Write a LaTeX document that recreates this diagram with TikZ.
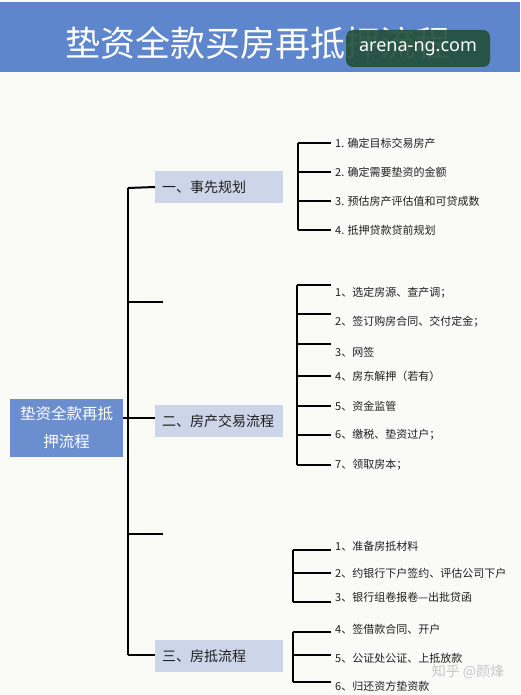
\documentclass[tikz,border=0pt]{standalone}
\usepackage{fontspec}
\usetikzlibrary{calc}
\setmainfont{Noto Sans CJK SC}
\newfontfamily\latinfont{Noto Sans}
\definecolor{bg}{HTML}{FAFBF7}
\definecolor{titlebar}{HTML}{5E86CC}
\definecolor{rootfill}{HTML}{6A8ECE}
\definecolor{catfill}{HTML}{CDD5E8}
\definecolor{wmgreen}{HTML}{23503C}
\definecolor{itemtext}{HTML}{1E1E1E}
\tikzset{
  line/.style={line width=2pt, black},
  catbox/.style={fill=catfill, draw=none, minimum width=128pt, minimum height=32pt,
     anchor=west, inner xsep=7pt, text width=114pt, align=left, font=\fontsize{14}{16}\selectfont, text=itemtext},
  item/.style={anchor=west, inner xsep=4pt, inner ysep=1pt, font=\fontsize{11}{13}\selectfont, text=itemtext},
}
\begin{document}
\begin{tikzpicture}[x=1pt,y=-1pt]
\useasboundingbox (0,0) rectangle (520,695);
\fill[bg] (0,0) rectangle (520,695);
% title bar
\fill[titlebar] (0,2) rectangle (520,72);
\node[text=white, font=\fontsize{35}{38}\selectfont] (title) at (258,43) {垫资全款买房再抵押流程};
% watermark box
\node[fill=wmgreen, fill opacity=0.92, text opacity=1, rounded corners=7pt, minimum width=144pt, minimum height=37pt,
      text=white, font=\latinfont\fontsize{18}{20}\selectfont] (wm) at (418,48.5) {arena-ng.com};
% root
\node[fill=rootfill, minimum width=113pt, minimum height=58pt, text=white, align=center,
      font=\fontsize{15.5}{28}\selectfont] (root) at (66.5,428) {垫资全款再抵\\押流程};
% trunk
\coordinate (t1) at (128,188);
\coordinate (t2) at (128,302);
\coordinate (t3) at (128,418);
\coordinate (t4) at (128,534);
\coordinate (t5) at (128,655);
\coordinate (e2) at (163,302);
\coordinate (e4) at (163,534);
\node[catbox] (c1) at (155,187) {一、事先规划};
\node[catbox] (c2) at (155,421) {二、房产交易流程};
\node[catbox] (c3) at (155,656) {三、房抵流程};
\draw[line] (t1) -- (t5);
\draw[line] (root.east|-t3) -- (t3);
\draw[line] (t1) -- (c1.west);
\draw[line] (t2) -- (e2);
\draw[line] (t3) -- (c2.west|-t3);
\draw[line] (t4) -- (e4);
\draw[line] (t5) -- (c3.west|-t5);
% group 1
\node[item] (a1) at (331,143) {1. 确定目标交易房产};
\node[item] (a2) at (331,172) {2. 确定需要垫资的金额};
\node[item] (a3) at (331,201) {3. 预估房产评估值和可贷成数};
\node[item] (a4) at (331,230) {4. 抵押贷款贷前规划};
\coordinate (ba) at (298,0);
\draw[line] (ba|-a1.west) -- (ba|-a4.west);
\foreach \n in {a1,a2,a3,a4} \draw[line] (ba|-\n.west) -- (\n.west);
% group 2
\node[item] (b1) at (331,293) {1、选定房源、查产调；};
\node[item] (b2) at (331,322) {2、签订购房合同、交付定金；};
\node[item] (b3) at (331,352) {3、网签};
\node[item] (b4) at (331,376) {4、房东解押（若有）};
\node[item] (b5) at (331,406) {5、资金监管};
\node[item] (b6) at (331,435) {6、缴税、垫资过户；};
\node[item] (b7) at (331,465) {7、领取房本；};
\coordinate (bb) at (297,0);
\draw[line] ($(bb|-b1.west)+(0,-8)$) -- (bb|-b7.west);
\foreach \n in {b1,b2,b3} \draw[line] ($(bb|-\n.west)+(0,-8)$) -- ($(\n.west)+(0,-8)$);
\foreach \n in {b4,b5,b6,b7} \draw[line] (bb|-\n.west) -- (\n.west);
% group 3a
\node[item] (d1) at (331,546) {1、准备房抵材料};
\node[item] (d2) at (331,573) {2、约银行下户签约、评估公司下户};
\node[item] (d3) at (331,597) {3、银行组卷报卷—出批贷函};
\coordinate (bd) at (293,0);
\draw[line] ($(bd|-d1.west)+(0,4)$) -- ($(bd|-d3.west)+(0,5)$);
\draw[line] ($(bd|-d1.west)+(0,4)$) -- ($(d1.west)+(0,4)$);
\draw[line] (bd|-d2.west) -- (d2.west);
\draw[line] ($(bd|-d3.west)+(0,5)$) -- ($(d3.west)+(0,5)$);
% group 3b
\node[item] (f1) at (331,629) {4、签借款合同、开户};
\node[item] (f2) at (331,658) {5、公证处公证、上抵放款};
\node[item] (f3) at (331,686) {6、归还资方垫资款};
\draw[line] ($(bd|-f1.west)+(0,3)$) -- ($(bd|-f3.west)+(0,-4)$);
\draw[line] ($(bd|-f1.west)+(0,3)$) -- ($(f1.west)+(0,3)$);
\draw[line] ($(bd|-f2.west)+(0,-3)$) -- ($(f2.west)+(0,-3)$);
\draw[line] ($(bd|-f3.west)+(0,-4)$) -- ($(f3.west)+(0,-4)$);
% zhihu watermark
\node[text=black!22, font=\fontsize{14}{16}\selectfont] (zh) at (468,672) {知乎 @颜烽};
\end{tikzpicture}
\end{document}
